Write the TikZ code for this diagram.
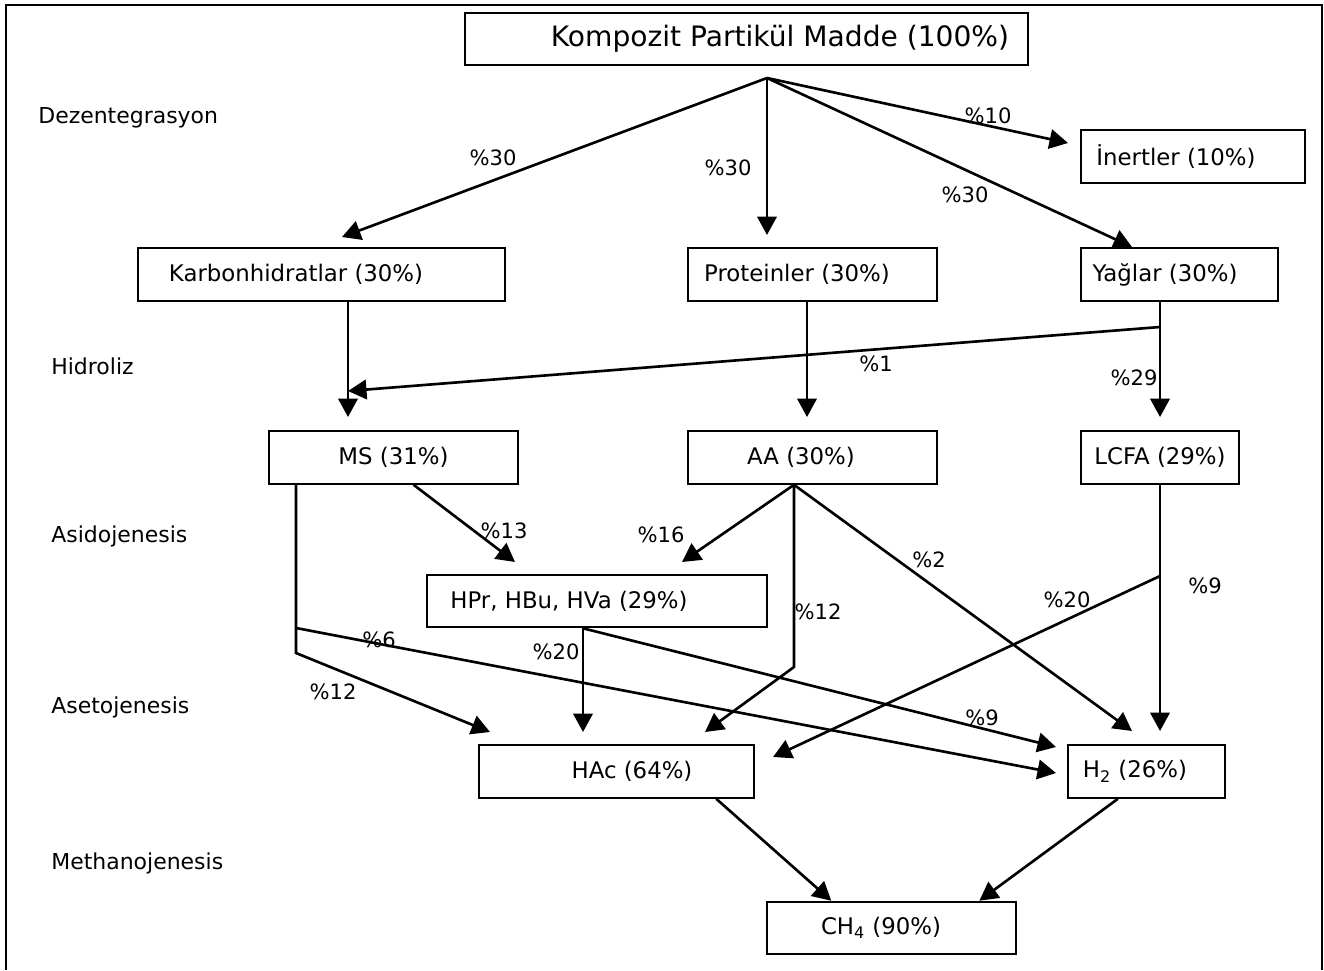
\documentclass[tikz,border=0pt]{standalone}
\usepackage{fontspec}
\setmainfont{DejaVu Sans}
\usetikzlibrary{arrows.meta,calc}

\begin{document}
\begin{tikzpicture}%
	[x={(0.02cm,0cm)},
	y={(0cm,-0.02cm)},
	frame/.style={line width=1.6pt, color=black},
	box/.style 2 args={draw, line width=1.2pt, minimum width=#1, minimum height=1.05cm, inner sep=0pt, font=\fontsize{13}{15}\selectfont, execute at begin node={\hspace*{#2}}},
	flow/.style={line width=1.5pt, -{Triangle[length=0.37cm,width=0.39cm]}},
	stage/.style={anchor=west, inner sep=0pt, font=\fontsize{12.5}{15}\selectfont},
	share/.style={inner sep=0pt, font=\fontsize{12}{14}\selectfont}]

\useasboundingbox (0,0) rectangle (1324,970);
\draw[frame] (6,970) -- (6,5) -- (1322,5) -- (1322,970);

% boxes
\node[box={11.26cm}{1.34cm}, font=\fontsize{16}{19}\selectfont] (kompozit) at (746.5,39) {Kompozit Partikül Madde (100\%)};
\node[box={4.48cm}{-0.68cm}] (inert) at (1193,156.5) {İnertler (10\%)};
\node[box={7.34cm}{-1.02cm}] (karb) at (321.5,274.5) {Karbonhidratlar (30\%)};
\node[box={4.98cm}{-0.62cm}] (prot) at (812.5,274.5) {Proteinler (30\%)};
\node[box={3.94cm}{-0.58cm}] (yag) at (1179.5,274.5) {Yağlar (30\%)};
\node[box={4.98cm}{0cm}] (ms) at (393.5,457.5) {MS (31\%)};
\node[box={4.98cm}{-0.46cm}] (aa) at (812.5,457.5) {AA (30\%)};
\node[box={3.16cm}{0cm}] (lcfa) at (1160,457.5) {LCFA (29\%)};
\node[box={6.8cm}{-1.12cm}] (hpr) at (597,601) {HPr, HBu, HVa (29\%)};
\node[box={5.5cm}{0.62cm}] (hac) at (616.5,771.5) {HAc (64\%)};
\node[box={3.14cm}{-0.46cm}] (h2) at (1146.5,771.5) {H\textsubscript{2} (26\%)};
\node[box={4.98cm}{-0.42cm}] (ch4) at (891.5,928) {CH\textsubscript{4} (90\%)};

% stages
\node[stage] (dez) at (38,118) {Dezentegrasyon};
\node[stage] (hid) at (51,366) {Hidroliz};
\node[stage] (asi) at (51,536) {Asidojenesis};
\node[stage] (ase) at (51,707) {Asetojenesis};
\node[stage] (met) at (51,863) {Methanojenesis};

\coordinate (split) at (767,78);
\coordinate (karbin) at (342,237);
\coordinate (protin) at (767,235);
\coordinate (yagin) at (1132,247);
\coordinate (inertin) at (1068,143);
\coordinate (msin) at (348,417);
\coordinate (msside) at (348,391);
\coordinate (aain) at (807,417);
\coordinate (lcfain) at (1160,417);
\coordinate (yagsplit) at (1160,327);
\coordinate (hprleft) at (515,562);
\coordinate (hprright) at (682,562);
\coordinate (msbend) at (296,653);
\coordinate (mssplit) at (296,628);
\coordinate (aabend) at (794,667);
\coordinate (hacleft) at (490,732);
\coordinate (hacmid) at (583,732);
\coordinate (hacright) at (705,732);
\coordinate (hacside) at (773,757);
\coordinate (h2top) at (1132,731);
\coordinate (h2right) at (1160,731);
\coordinate (h2upper) at (1056,747);
\coordinate (h2lower) at (1056,773);
\coordinate (lcfasplit) at (1160,576);

% dezentegrasyon
\draw[flow] (split) -- (karbin);
\draw[flow] (split) -- (protin);
\draw[flow] (split) -- (yagin);
\draw[flow] (split) -- (inertin);

% hidroliz
\draw[flow] (karb.south -| msin) -- (msin);
\draw[flow] (prot.south -| aain) -- (aain);
\draw[flow] (yag.south -| lcfain) -- (lcfain);
\draw[flow] (yagsplit) -- (msside);

% asidojenesis, asetojenesis
\draw[flow] ($(ms.south west)!0.58!(ms.south east)$) -- (hprleft);
\draw[flow] (ms.south -| msbend) -- (msbend) -- (hacleft);
\draw[flow] (mssplit) -- (h2lower);
\draw[flow] (aa.south -| aabend) -- (hprright);
\draw[flow] (aa.south -| aabend) -- (aabend) -- (hacright);
\draw[flow] (aa.south -| aabend) -- (h2top);
\draw[flow] (hpr.south -| hacmid) -- (hacmid);
\draw[flow] (hpr.south -| hacmid) -- (h2upper);
\draw[flow] (lcfa.south -| h2right) -- (h2right);
\draw[flow] (lcfasplit) -- (hacside);

% methanojenesis
\draw[flow] ($(hac.south west)!0.86!(hac.south east)$) -- ($(ch4.north west)!0.26!(ch4.north east)$);
\draw[flow] ($(h2.south west)!0.32!(h2.south east)$) -- ($(ch4.north west)!0.85!(ch4.north east)$);

% shares
\node[share] (s1) at (493,158) {\%30};
\node[share] (s2) at (728,168) {\%30};
\node[share] (s3) at (965,195) {\%30};
\node[share] (s4) at (988,116) {\%10};
\node[share] (s5) at (876,364) {\%1};
\node[share] (s6) at (1134,378) {\%29};
\node[share] (s7) at (504,531) {\%13};
\node[share] (s8) at (661,535) {\%16};
\node[share] (s9) at (929,560) {\%2};
\node[share] (s10) at (818,612) {\%12};
\node[share] (s11) at (1067,600) {\%20};
\node[share] (s12) at (1205,586) {\%9};
\node[share] (s13) at (379,640) {\%6};
\node[share] (s14) at (556,652) {\%20};
\node[share] (s15) at (333,692) {\%12};
\node[share] (s16) at (982,718) {\%9};
\end{tikzpicture}
\end{document}
